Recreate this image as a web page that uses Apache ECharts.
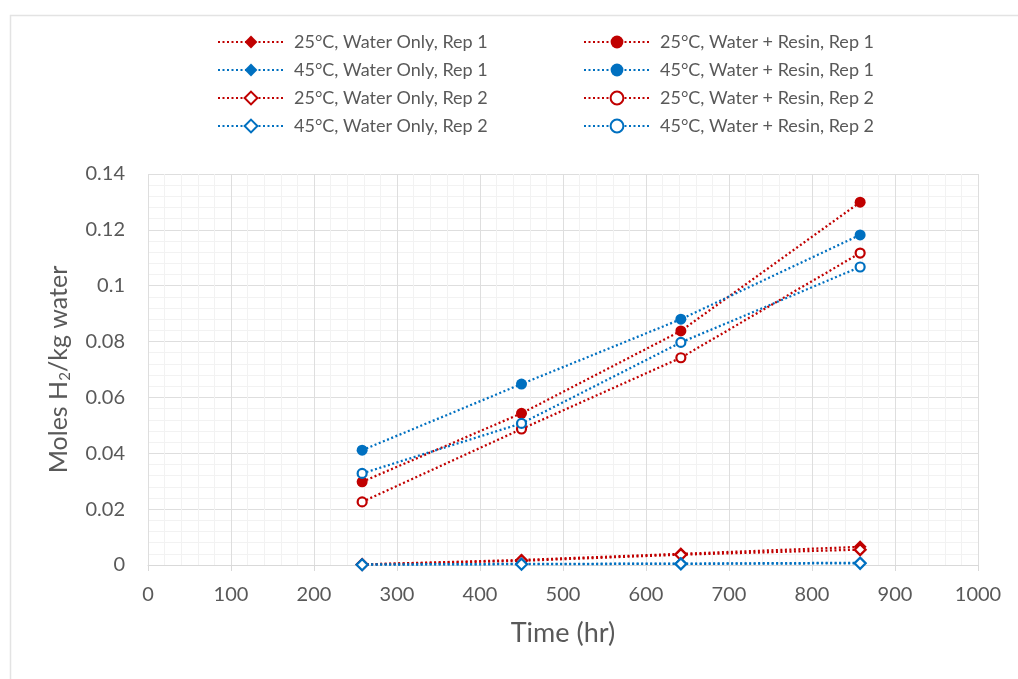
<!DOCTYPE html>
<html>
<head>
<meta charset="utf-8">
<script src="https://cdn.jsdelivr.net/npm/echarts@6/dist/echarts.min.js"></script>
<style>
  html, body { margin: 0; padding: 0; background: #fff; }
  #chart { width: 1018px; height: 679px; }
</style>
</head>
<body>
<div id="chart"></div>
<script>
// Sampling times (hr)
const times = [258, 450, 642, 858];

// Moles H2 per kg water
const waterOnly25Rep1 = [0.0002, 0.0018, 0.0040, 0.0065];
const waterOnly45Rep1 = [0.0002, 0.0004, 0.0005, 0.0008];
const waterOnly25Rep2 = [0.0002, 0.0015, 0.0037, 0.0055];
const waterOnly45Rep2 = [0.0001, 0.0003, 0.0004, 0.0006];
const resin25Rep1 = [0.0298, 0.0543, 0.0838, 0.1299];
const resin45Rep1 = [0.0411, 0.0648, 0.0880, 0.1182];
const resin25Rep2 = [0.0226, 0.0487, 0.0742, 0.1117];
const resin45Rep2 = [0.0328, 0.0507, 0.0797, 0.1067];

const seriesNames = [
  '25°C, Water Only, Rep 1',
  '45°C, Water Only, Rep 1',
  '25°C, Water Only, Rep 2',
  '45°C, Water Only, Rep 2',
  '25°C, Water + Resin, Rep 1',
  '45°C, Water + Resin, Rep 1',
  '25°C, Water + Resin, Rep 2',
  '45°C, Water + Resin, Rep 2'
];

const RED = '#C00000';
const BLUE = '#0070C0';
const FONT = 'Lato, "Liberation Sans", sans-serif';
const TEXT = '#595959';

function makeSeries(name, values, color, symbol, filled) {
  const isDiamond = symbol === 'diamond';
  return {
    name: name,
    type: 'line',
    data: times.map((t, i) => [t, values[i]]),
    symbol: symbol,
    symbolSize: isDiamond ? (filled ? 13 : 11) : (filled ? 11 : 9),
    showAllSymbol: true,
    lineStyle: { color: color, width: 2.25, type: [2, 2.5] },
    itemStyle: filled
      ? { color: color, borderColor: color, borderWidth: 0 }
      : { color: '#ffffff', borderColor: color, borderWidth: 2.2 },
    emphasis: { disabled: true },
    z: 3
  };
}

const series = [
  makeSeries(seriesNames[4], resin25Rep1, RED, 'circle', true),
  makeSeries(seriesNames[5], resin45Rep1, BLUE, 'circle', true),
  makeSeries(seriesNames[6], resin25Rep2, RED, 'circle', false),
  makeSeries(seriesNames[7], resin45Rep2, BLUE, 'circle', false),
  makeSeries(seriesNames[0], waterOnly25Rep1, RED, 'diamond', true),
  makeSeries(seriesNames[2], waterOnly25Rep2, RED, 'diamond', false),
  makeSeries(seriesNames[1], waterOnly45Rep1, BLUE, 'diamond', true),
  makeSeries(seriesNames[3], waterOnly45Rep2, BLUE, 'diamond', false)
];

const legendCommon = {
  orient: 'vertical',
  itemWidth: 66,
  itemHeight: 16,
  itemGap: 10,
  selectedMode: false,
  textStyle: { fontFamily: FONT, fontSize: 18, color: TEXT, padding: [0, 0, 0, 5] }
};

const chart = echarts.init(document.getElementById('chart'), null, { renderer: 'canvas' });

chart.setOption({
  backgroundColor: '#ffffff',
  animation: false,
  graphic: [{
    type: 'rect',
    left: 8, top: 13,
    shape: { width: 1040, height: 700 },
    style: { fill: 'none', stroke: '#e3e3e3', lineWidth: 1.5 },
    silent: true,
    z: -1
  }],
  legend: [
    Object.assign({ left: 212, top: 28, data: seriesNames.slice(0, 4) }, legendCommon),
    Object.assign({ left: 578, top: 28, data: seriesNames.slice(4, 8) }, legendCommon)
  ],
  grid: { left: 148, right: 40, top: 174, bottom: 114, containLabel: false },
  xAxis: {
    type: 'value',
    min: 0, max: 1000, interval: 100,
    name: 'Time (hr)',
    nameLocation: 'middle',
    nameGap: 55,
    nameTextStyle: { fontFamily: FONT, fontSize: 27, color: TEXT },
    axisLine: { show: true, lineStyle: { color: '#d9d9d9', width: 1 } },
    axisTick: { show: true, length: 6, lineStyle: { color: '#d9d9d9' } },
    axisLabel: {
      fontFamily: FONT, fontSize: 20, color: TEXT, margin: 20,
      formatter: v => String(v)
    },
    splitLine: { show: true, lineStyle: { color: '#dedede', width: 1 } },
    minorTick: { show: false, splitNumber: 5 },
    minorSplitLine: { show: true, lineStyle: { color: '#f2f2f2', width: 1 } }
  },
  yAxis: {
    type: 'value',
    min: 0, max: 0.14, interval: 0.02,
    name: 'Moles H{sub|2}/kg water',
    nameLocation: 'middle',
    nameGap: 75,
    nameRotate: 90,
    nameTextStyle: {
      fontFamily: FONT, fontSize: 25, color: TEXT,
      rich: {
        sub: { fontFamily: FONT, fontSize: 15, color: TEXT, verticalAlign: 'bottom', padding: [13, 0, 0, 0] }
      }
    },
    axisLine: { show: false },
    axisTick: { show: false },
    axisLabel: { fontFamily: FONT, fontSize: 20, color: TEXT, margin: 23 },
    splitLine: { show: true, lineStyle: { color: '#dedede', width: 1 } },
    minorTick: { show: false, splitNumber: 5 },
    minorSplitLine: { show: true, lineStyle: { color: '#f2f2f2', width: 1 } }
  },
  series: series
});
</script>
</body>
</html>
